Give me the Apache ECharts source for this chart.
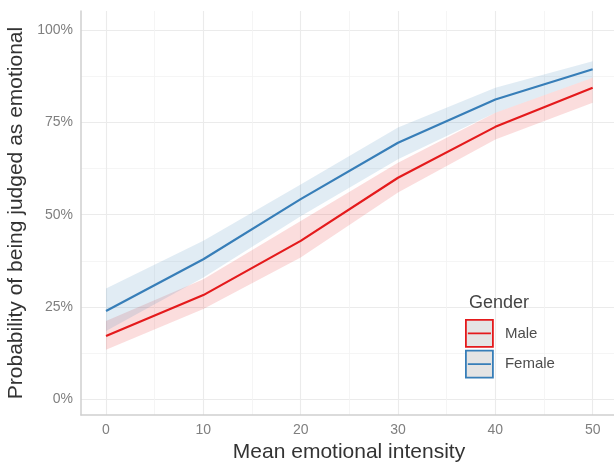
<!DOCTYPE html>
<html>
<head>
<meta charset="utf-8">
<script src="https://cdn.jsdelivr.net/npm/echarts@6/dist/echarts.min.js"></script>
<style>
html,body{margin:0;padding:0;background:#fff;}
#main{width:614px;height:464px;}
</style>
</head>
<body>
<div id="main"></div>
<script>
const intensity = [0, 10, 20, 30, 40, 50];
const maleFit   = [17.1, 28.2, 42.9, 60.0, 73.8, 84.4];
const maleLower = [13.4, 24.4, 38.4, 56.0, 70.4, 80.3];
const maleUpper = [21.2, 32.5, 48.3, 64.1, 77.6, 87.1];
const femaleFit   = [23.9, 37.9, 54.2, 69.5, 81.2, 89.4];
const femaleLower = [18.5, 33.0, 49.6, 65.0, 77.6, 87.1];
const femaleUpper = [30.0, 42.9, 58.2, 73.6, 84.4, 91.6];
const xTicks = [0, 10, 20, 30, 40, 50];
const xMinor = [5, 15, 25, 35, 45];
const yTicks = [0, 25, 50, 75, 100];
const yMinor = [12.5, 37.5, 62.5, 87.5];

const RED = '#E41A1C', BLUE = '#377EB8';
const FONT = '"Liberation Sans", Arial, sans-serif';

const pairs = (ys) => intensity.map((x, i) => [x, ys[i]]);
const bandData = (lo, hi) => intensity.map((x, i) => [x, lo[i], hi[i]]);

function bandSeries(name, lo, hi, color) {
  return {
    name: name, type: 'custom', data: bandData(lo, hi), silent: true, z: 1,
    encode: {x: 0, y: [1, 2]},
    renderItem: function (params, api) {
      if (params.dataIndex !== 0) return null;
      const top = [], bottom = [];
      for (let i = 0; i < intensity.length; i++) {
        top.push(api.coord([intensity[i], hi[i]]));
        bottom.push(api.coord([intensity[i], lo[i]]));
      }
      const pts = top.concat(bottom.reverse());
      return {
        type: 'polygon',
        shape: {points: pts},
        style: {fill: color, opacity: 0.15}
      };
    }
  };
}

const majorLine = {show: true, lineStyle: {color: '#EBEBEB', width: 1.1}};
const minorLine = {show: true, lineStyle: {color: '#F3F3F3', width: 0.8}};

const chart = echarts.init(document.getElementById('main'), null, {renderer: 'canvas'});
chart.setOption({
  animation: false,
  backgroundColor: '#ffffff',
  textStyle: {fontFamily: FONT},
  title: {
    text: 'Gender', left: 464, top: 289,
    textStyle: {fontFamily: FONT, fontSize: 18, fontWeight: 'normal', color: '#444'}
  },
  grid: {left: 81, top: 11, width: 536, height: 404, containLabel: false, outerBoundsMode: 'none'},
  legend: {
    orient: 'vertical', left: 465, top: 319, padding: 0,
    itemWidth: 27, itemHeight: 27, itemGap: 2,
    icon: 'path://M0,0 H28 V28 H0 Z M2,14 H26',
    textStyle: {fontFamily: FONT, fontSize: 15, color: '#4d4d4d', padding: [0, 0, 0, 7]},
    data: [
      {name: 'Male', itemStyle: {color: '#E4E4E4', borderColor: RED, borderWidth: 1.8}},
      {name: 'Female', itemStyle: {color: '#E4E4E4', borderColor: BLUE, borderWidth: 1.8}}
    ]
  },
  xAxis: [
    {
      type: 'value', min: -2.57, max: 52.5,
      name: 'Mean emotional intensity', nameLocation: 'middle', nameGap: 24,
      nameTextStyle: {fontFamily: FONT, fontSize: 21, color: '#333'},
      axisLine: {show: true, onZero: false, lineStyle: {color: '#CFCFCF', width: 1.5}},
      axisTick: {show: false, customValues: xTicks},
      axisLabel: {customValues: xTicks, fontFamily: FONT, fontSize: 14, color: '#7f7f7f', margin: 8},
      splitLine: majorLine
    },
    {
      type: 'value', min: -2.57, max: 52.5, position: 'bottom',
      axisLine: {show: false}, axisTick: {show: false, customValues: xMinor},
      axisLabel: {show: false, customValues: xMinor},
      splitLine: minorLine
    }
  ],
  yAxis: [
    {
      type: 'value', min: -4.3, max: 105.2,
      name: 'Probability of being judged as emotional', nameLocation: 'middle', nameGap: 53,
      nameTextStyle: {fontFamily: FONT, fontSize: 21, color: '#333'},
      axisLine: {show: true, onZero: false, lineStyle: {color: '#CFCFCF', width: 1.5}},
      axisTick: {show: false, customValues: yTicks},
      axisLabel: {customValues: yTicks, formatter: '{value}%', fontFamily: FONT, fontSize: 14, color: '#7f7f7f', margin: 8},
      splitLine: majorLine
    },
    {
      type: 'value', min: -4.3, max: 105.2, position: 'left',
      axisLine: {show: false}, axisTick: {show: false, customValues: yMinor},
      axisLabel: {show: false, customValues: yMinor},
      splitLine: minorLine
    }
  ],
  series: [
    bandSeries('Male band', maleLower, maleUpper, RED),
    bandSeries('Female band', femaleLower, femaleUpper, BLUE),
    {name: 'Male', type: 'line', data: pairs(maleFit), symbol: 'none',
     itemStyle: {color: RED}, lineStyle: {color: RED, width: 2.2}, z: 3},
    {name: 'Female', type: 'line', data: pairs(femaleFit), symbol: 'none',
     itemStyle: {color: BLUE}, lineStyle: {color: BLUE, width: 2.2}, z: 3}
  ]
});
</script>
</body>
</html>
